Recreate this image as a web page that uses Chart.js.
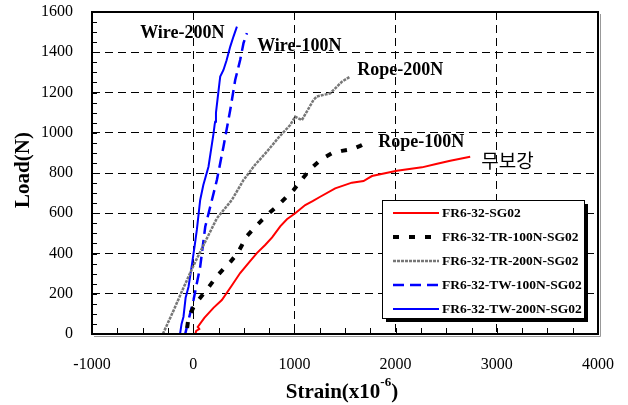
<!DOCTYPE html>
<html>
<head>
<meta charset="utf-8">
<script src="https://cdn.jsdelivr.net/npm/chart.js@4.4.0/dist/chart.umd.min.js"></script>
<style>
  html, body { margin: 0; padding: 0; background: #fff; }
</style>
</head>
<body>
<canvas id="chart" width="628" height="405"></canvas>
<script>
// strain (x10^-6), load (N)
const sg02 = [[20,0],[30,15],[60,25],[45,35],[110,80],[200,130],[283,169],[380,240],[464,303],[550,355],[629,402],[711,442],[780,480],[860,535],[926,570],[1008,600],[1107,641],[1180,660],[1255,682],[1403,724],[1568,752],[1683,760],[1766,785],[2013,811],[2260,828],[2400,845],[2540,861],[2737,881]];
const tr100 = [[-60,30],[-47,80],[0,130],[52,169],[110,205],[168,243],[230,285],[299,323],[370,360],[438,401],[480,440],[524,483],[600,525],[679,566],[760,605],[843,641],[920,680],[991,715],[1060,760],[1123,798],[1180,830],[1238,856],[1300,878],[1370,898],[1470,910],[1568,918],[1650,935],[1733,956]];
const tr200 = [[-300,0],[-200,110],[-100,225],[3,340],[120,460],[234,575],[382,666],[497,765],[610,840],[728,906],[850,980],[958,1038],[1008,1080],[1074,1063],[1189,1163],[1222,1180],[1354,1196],[1470,1254],[1551,1279]];
const tw100 = [[-79,0],[-46,70],[3,169],[69,334],[119,533],[185,666],[234,765],[299,931],[366,1113],[415,1262],[464,1361],[497,1445],[531,1495]];
const tw200 = [[-130,0],[-115,50],[-96,86],[-75,180],[-46,235],[-13,343],[15,440],[36,517],[69,666],[100,740],[151,831],[201,997],[212,1040],[217,1055],[225,1100],[260,1250],[267,1279],[299,1312],[330,1360],[366,1428],[398,1478],[432,1527]];

const seriesLabels = ['FR6-32-SG02', 'FR6-32-TR-100N-SG02', 'FR6-32-TR-200N-SG02', 'FR6-32-TW-100N-SG02', 'FR6-32-TW-200N-SG02'];
const notes = ['Wire-200N', 'Wire-100N', 'Rope-200N', 'Rope-100N', '무보강'];

const serif = "'Liberation Serif', 'Times New Roman', serif";
const toXY = (pts) => pts.map(p => ({ x: p[0], y: p[1] }));

const styles = [
  { borderColor: '#ff0000', borderWidth: 2 },
  { borderColor: '#000000', borderWidth: 4, borderDash: [6, 10] },
  { borderColor: '#777777', borderWidth: 2.5, borderDash: [3, 1] },
  { borderColor: '#0000ff', borderWidth: 2.5, borderDash: [11, 6] },
  { borderColor: '#0000ff', borderWidth: 2 },
];

const datasets = [sg02, tr100, tr200, tw100, tw200].map((pts, i) => ({
  label: seriesLabels[i],
  data: toXY(pts),
  showLine: true,
  pointRadius: 0,
  fill: false,
  tension: 0,
  ...styles[i],
}));

const decor = {
  id: 'decor',
  afterDraw(chart) {
    const ctx = chart.ctx;
    const a = chart.chartArea;
    const xs = chart.scales.x;
    const ys = chart.scales.y;
    ctx.save();

    // minor ticks, pointing inward
    ctx.strokeStyle = '#000';
    ctx.lineWidth = 1;
    ctx.beginPath();
    for (let v = -750; v < 4000; v += 250) {
      const px = Math.round(xs.getPixelForValue(v)) + 0.5;
      ctx.moveTo(px, a.bottom);
      ctx.lineTo(px, a.bottom - 6);
    }
    for (let v = 50; v < 1600; v += 50) {
      const py = Math.round(ys.getPixelForValue(v)) + 0.5;
      ctx.moveTo(a.left, py);
      ctx.lineTo(a.left + 5, py);
    }
    ctx.stroke();

    // frame
    ctx.strokeStyle = '#999';
    ctx.lineWidth = 1;
    ctx.beginPath();
    ctx.moveTo(a.right + 2.5, a.top + 2);
    ctx.lineTo(a.right + 2.5, a.bottom + 2.5);
    ctx.lineTo(a.left + 2, a.bottom + 2.5);
    ctx.stroke();
    ctx.strokeStyle = '#000';
    ctx.lineWidth = 2;
    ctx.strokeRect(a.left, a.top, a.right - a.left, a.bottom - a.top);

    // axis titles
    ctx.fillStyle = '#000';
    ctx.font = 'bold 21px ' + serif;
    ctx.textBaseline = 'middle';
    ctx.textAlign = 'center';
    ctx.save();
    ctx.translate(24, 170);
    ctx.rotate(-Math.PI / 2);
    ctx.fillText('Load(N)', 0, 0);
    ctx.restore();

    ctx.textAlign = 'left';
    ctx.textBaseline = 'alphabetic';
    const main = 'Strain(x10';
    const sup = '-6';
    ctx.font = 'bold 21px ' + serif;
    const w1 = ctx.measureText(main).width;
    const w3 = ctx.measureText(')').width;
    ctx.font = 'bold 13px ' + serif;
    const w2 = ctx.measureText(sup).width;
    let tx = 342 - (w1 + w2 + w3) / 2;
    ctx.font = 'bold 21px ' + serif;
    ctx.fillText(main, tx, 398);
    ctx.font = 'bold 13px ' + serif;
    ctx.fillText(sup, tx + w1, 386);
    ctx.font = 'bold 21px ' + serif;
    ctx.fillText(')', tx + w1 + w2, 398);

    // curve notes
    const spots = [[-524, 1496], [632, 1430], [1621, 1312], [1828, 950], [2846, 860]];
    ctx.textBaseline = 'middle';
    notes.forEach((t, i) => {
      ctx.font = i === 4 ? "19px 'Noto Sans CJK KR', sans-serif" : 'bold 18px ' + serif;
      ctx.fillText(t, xs.getPixelForValue(spots[i][0]), ys.getPixelForValue(spots[i][1]));
    });

    // legend box
    const lx = 382, ly = 200, lw = 202, lh = 118;
    ctx.fillStyle = '#000';
    ctx.fillRect(lx + 4, ly + 4, lw, lh);
    ctx.fillStyle = '#fff';
    ctx.fillRect(lx, ly, lw, lh);
    ctx.lineWidth = 1;
    ctx.strokeStyle = '#000';
    ctx.strokeRect(lx + 0.5, ly + 0.5, lw, lh);
    ctx.font = 'bold 13.5px ' + serif;
    chart.data.datasets.forEach((ds, i) => {
      const ry = ly + 13 + i * 24;
      ctx.save();
      ctx.strokeStyle = ds.borderColor;
      ctx.lineWidth = ds.borderWidth;
      ctx.setLineDash(ds.borderDash || []);
      ctx.beginPath();
      ctx.moveTo(393, ry);
      ctx.lineTo(439, ry);
      ctx.stroke();
      ctx.restore();
      ctx.fillStyle = '#000';
      ctx.fillText(ds.label, 442, ry + 1);
    });

    ctx.restore();
  }
};

new Chart(document.getElementById('chart'), {
  type: 'scatter',
  data: { datasets: datasets },
  options: {
    responsive: false,
    animation: false,
    layout: { padding: { left: 0, top: 12, right: 30, bottom: 0 } },
    plugins: {
      legend: { display: false },
      tooltip: { enabled: false },
    },
    scales: {
      x: {
        type: 'linear',
        min: -1000,
        max: 4000,
        ticks: { stepSize: 1000, color: '#000', padding: 21, font: { family: serif, size: 16 }, callback: (v) => String(v) },
        grid: { color: '#000', lineWidth: 1, drawTicks: false },
        border: { display: false, dash: [8, 5] },
        afterFit: (s) => { s.height = 71; s.paddingLeft = 0; s.paddingRight = 0; },
      },
      y: {
        min: 0,
        max: 1600,
        ticks: { stepSize: 200, color: '#000', padding: 19, font: { family: serif, size: 16 }, callback: (v) => String(v) },
        grid: { color: '#000', lineWidth: 1, drawTicks: false },
        border: { display: false, dash: [8, 5] },
        afterFit: (s) => { s.width = 92; s.paddingTop = 0; s.paddingBottom = 0; },
      },
    },
  },
  plugins: [decor],
});
</script>
</body>
</html>
